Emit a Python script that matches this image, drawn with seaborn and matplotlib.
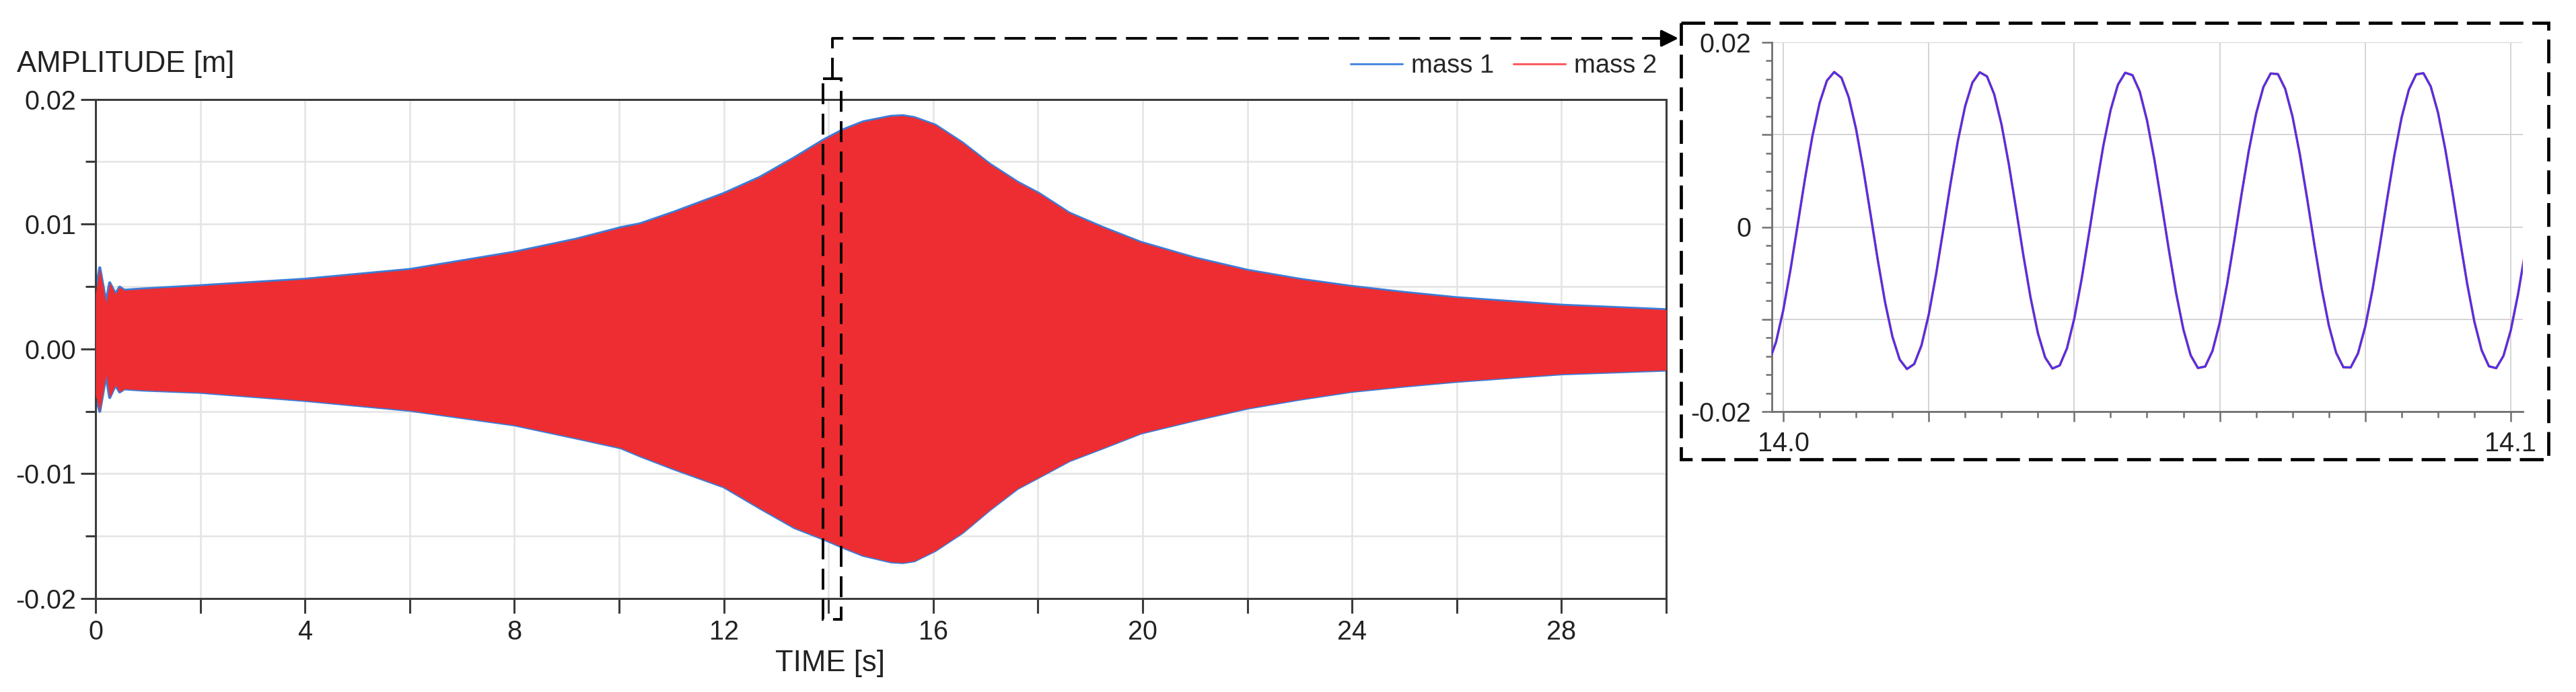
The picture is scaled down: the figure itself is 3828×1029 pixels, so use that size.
import matplotlib
matplotlib.use('Agg')
import matplotlib.pyplot as plt
import matplotlib.ticker as mticker
from matplotlib.lines import Line2D
from matplotlib.patches import Rectangle
import numpy as np
import seaborn as sns

# envelope of the oscillation over the full run
time_s = [0.0, 0.08, 0.2, 0.27, 0.38, 0.46, 0.55, 0.9, 2.0, 4.0, 6.0, 8.0,
          9.18, 10.03, 10.4, 11.05, 12.0, 12.69, 13.35, 13.91,
          14.27, 14.66, 15.19, 15.42, 15.64, 16.04, 16.56, 17.08, 17.61,
          18.02, 18.6, 19.25, 19.97, 21.0, 22.0, 23.0, 24.0, 25.0, 26.0, 28.0, 30.0]
upper_m = [0.0044, 0.0065, 0.0037, 0.0053, 0.0044, 0.00495, 0.0047, 0.0048, 0.00506, 0.00558,
           0.00636, 0.00775,
           0.00879, 0.00971, 0.01002, 0.01096, 0.01245, 0.01375, 0.01532, 0.01675,
           0.01754, 0.01819, 0.01863, 0.01868, 0.01853, 0.01793, 0.0165, 0.0148, 0.01336,
           0.01245, 0.01088, 0.00971, 0.00853, 0.00728, 0.0063, 0.00558, 0.0050, 0.00452,
           0.0041, 0.0035, 0.00314]
lower_m = [-0.0037, -0.0050, -0.0021, -0.0039, -0.0029, -0.00345, -0.0032, -0.0033, -0.00348,
           -0.00413, -0.00492, -0.00609,
           -0.00714, -0.00792, -0.00857, -0.00962, -0.01105, -0.01275, -0.01432, -0.01524,
           -0.01589, -0.01654, -0.01706, -0.01712, -0.01698, -0.01615, -0.01471, -0.01288,
           -0.01118, -0.01027, -0.00896, -0.00792, -0.00674, -0.0057, -0.00475, -0.00403,
           -0.0034, -0.00298, -0.0026, -0.0020, -0.0017]

# zoomed window, one sample per millisecond starting at 13.998 s
zoom_t0, zoom_dt = 13.998, 0.001
zoom_mass1 = [-0.01469, -0.01248, -0.00900, -0.00458, 0.00034, 0.00531, 0.00982, 0.01345, 0.01586,
              0.01679, 0.01616, 0.01404, 0.01063, 0.00626, 0.00135, -0.00363, -0.00818, -0.01188,
              -0.01436, -0.01539, -0.01485, -0.01282, -0.00948, -0.00515, -0.00026, 0.00473,
              0.00932, 0.01308, 0.01564, 0.01676, 0.01632, 0.01437, 0.01110, 0.00682, 0.00195,
              -0.00305, -0.00768, -0.01150, -0.01414, -0.01534, -0.01500, -0.01314, -0.00993,
              -0.00571, -0.00085, 0.00414, 0.00881, 0.01268, 0.01541, 0.01671, 0.01645, 0.01468,
              0.01155, 0.00737, 0.00254, -0.00246, -0.00716, -0.01110, -0.01390, -0.01528,
              -0.01512, -0.01343, -0.01037, -0.00625, -0.00145, 0.00356, 0.00828, 0.01228,
              0.01516, 0.01663, 0.01656, 0.01496, 0.01198, 0.00791, 0.00314, -0.00187, -0.00663,
              -0.01068, -0.01363, -0.01520, -0.01522, -0.01371, -0.01080, -0.00679, -0.00204,
              0.00296, 0.00775, 0.01186, 0.01488, 0.01653, 0.01666, 0.01523, 0.01240, 0.00844,
              0.00373, -0.00128, -0.00609, -0.01025, -0.01335, -0.01509, -0.01530, -0.01397,
              -0.01122, -0.00731, -0.00263]
zoom_mass2 = list(zoom_mass1)  # the two masses coincide in this window
zoom_time = zoom_t0 + zoom_dt * np.arange(len(zoom_mass1))

series_labels = ['mass 1', 'mass 2']
x_tick_labels = ['0', '', '4', '', '8', '', '12', '', '16', '', '20', '', '24', '', '28', '']
y_tick_labels = ['-0.02', '-0.01', '0.00', '0.01', '0.02']
zoom_x_labels = ['14.0', '', '', '', '', '14.1']
zoom_y_labels = ['-0.02', '', '0', '', '0.02']

BLUE = '#3b7dd8'
RED = '#ed2d31'
BLUE_LEG = '#4a8ae0'
RED_LEG = '#ff5b5f'
BLUE_ZOOM = '#3838ff'
RED_ZOOM = '#ff3030'

sns.set_theme(style='ticks')
plt.rcParams['font.family'] = ['Liberation Sans', 'DejaVu Sans']
plt.rcParams['axes.unicode_minus'] = False

W, H = 3828, 1029
fig = plt.figure(figsize=(W / 100, H / 100), dpi=100)
ax = fig.add_axes([142 / W, 1 - 890 / H, 2334 / W, 742.4 / H])
axz = fig.add_axes([2633 / W, 1 - 612 / H, 1116 / W, 549 / H])

# ---- main plot
sns.lineplot(x=time_s, y=upper_m, ax=ax, color=BLUE, lw=3.2, zorder=2)
sns.lineplot(x=time_s, y=lower_m, ax=ax, color=BLUE, lw=3.2, zorder=2)
ax.fill_between(time_s, upper_m, lower_m, color=RED, lw=0, zorder=3)

ax.set_xlim(0, 30)
ax.set_ylim(-0.02, 0.02)
ax.set_xticks(np.arange(0, 31, 2))
ax.set_xticklabels(x_tick_labels)
ax.set_yticks([-0.02, -0.01, 0.0, 0.01, 0.02])
ax.set_yticklabels(y_tick_labels)
ax.yaxis.set_minor_locator(mticker.MultipleLocator(0.005))
ax.xaxis.set_minor_locator(mticker.NullLocator())
ax.grid(True, which='both', color='#e4e4e4', lw=1.8, zorder=0)
ax.set_axisbelow(True)
for sp in ax.spines.values():
    sp.set_visible(True)
    sp.set_color('#3c3c3c')
    sp.set_linewidth(2.2)
ax.tick_params(axis='both', which='major', direction='out', length=15.5, width=2.2,
               color='#3c3c3c', labelsize=28.5, labelcolor='#222222',
               bottom=True, left=True, top=False, right=False)
ax.tick_params(axis='y', which='major', pad=5)
ax.tick_params(axis='x', which='major', pad=7)
ax.tick_params(axis='y', which='minor', direction='out', length=10.5, width=2.2,
               color='#3c3c3c', left=True)
ax.set_xlabel('')
ax.set_ylabel('')

fig.text(25 / W, 1 - 106.7 / H, 'AMPLITUDE [m]', ha='left', va='baseline', fontsize=31.5,
         color='#222222')
fig.text(1233 / W, 1 - 998 / H, 'TIME [s]', ha='center', va='baseline', fontsize=31.5,
         color='#222222')

handles = [Line2D([], [], color=BLUE_LEG, lw=2.2), Line2D([], [], color=RED_LEG, lw=2.2)]
fig.legend(handles, series_labels, loc='center right', bbox_to_anchor=(2462 / W, 1 - 98 / H),
           ncol=2, frameon=False, fontsize=27.5, handlelength=2.0, handletextpad=0.35,
           columnspacing=0.75, borderpad=0, borderaxespad=0)

# ---- zoomed window
sns.lineplot(x=zoom_time, y=zoom_mass2, ax=axz, color=RED_ZOOM, lw=2.6, zorder=3)
sns.lineplot(x=zoom_time, y=zoom_mass1, ax=axz, color=BLUE_ZOOM, lw=2.0, zorder=4)
axz.set_xlim(14.0 - 17 / 10810, 14.1 + 18 / 10810)
axz.set_ylim(-0.02, 0.02)
axz.set_xticks(14.0 + 0.02 * np.arange(6))
axz.set_xticklabels(zoom_x_labels)
axz.set_yticks([-0.02, -0.01, 0.0, 0.01, 0.02])
axz.set_yticklabels(zoom_y_labels)
axz.xaxis.set_minor_locator(mticker.MultipleLocator(0.005))
axz.yaxis.set_minor_locator(mticker.MultipleLocator(0.002))
axz.grid(True, which='major', color='#d4d4d4', lw=1.4, zorder=0)
axz.set_axisbelow(True)
axz.spines['top'].set_visible(False)
axz.spines['right'].set_visible(False)
for s in ['left', 'bottom']:
    axz.spines[s].set_color('#707070')
    axz.spines[s].set_linewidth(2.0)
axz.tick_params(axis='both', which='major', direction='out', length=11, width=1.8,
                color='#707070', labelsize=28.5, labelcolor='#222222',
                bottom=True, left=True, top=False, right=False)
axz.tick_params(axis='y', which='major', pad=11)
axz.tick_params(axis='x', which='major', pad=10)
axz.tick_params(axis='both', which='minor', direction='out', length=6.5, width=1.8,
                color='#707070', bottom=True, left=True, top=False, right=False)
axz.set_xlabel('')
axz.set_ylabel('')

# ---- dashed call-out boxes and connector (figure pixel space)
ov = fig.add_axes([0, 0, 1, 1], zorder=10)
ov.set_xlim(0, W)
ov.set_ylim(H, 0)
ov.axis('off')
ov.patch.set_alpha(0)
ov.add_patch(Rectangle((1223, 117), 27, 804, fill=False, ec='black', lw=2.8,
                       ls=(0, (8, 3.6))))
ov.plot([1237, 1237, 2478], [117, 57, 57], color='black', lw=2.8, ls=(0, (8, 3.6)))
ov.annotate('', xy=(2497, 57), xytext=(2470, 57),
            arrowprops=dict(arrowstyle='-|>', color='black', lw=2.8, mutation_scale=38))
ov.add_patch(Rectangle((2498, 34), 1289, 649, fill=False, ec='black', lw=3.4,
                       ls=(0, (7.5, 2.8))))

fig.savefig('out.png', dpi=100)
